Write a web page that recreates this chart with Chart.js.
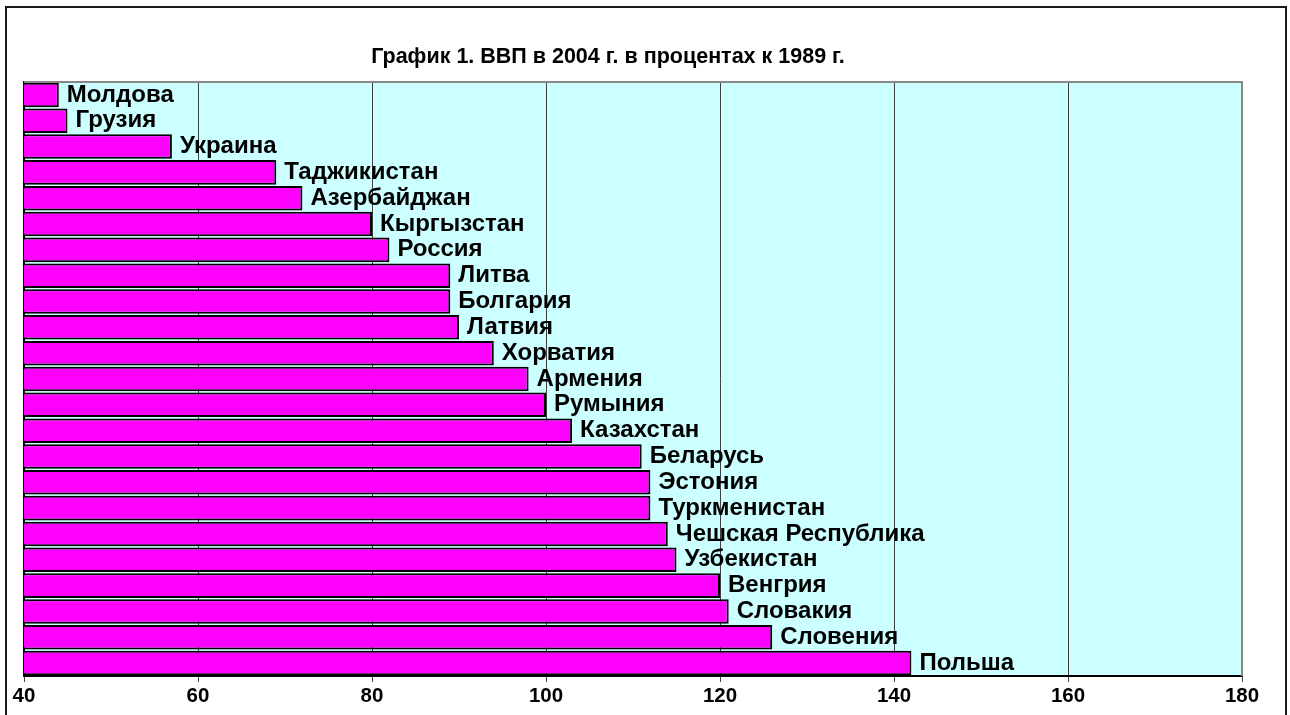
<!DOCTYPE html>
<html>
<head>
<meta charset="utf-8">
<script src="https://cdn.jsdelivr.net/npm/chart.js@4/dist/chart.umd.min.js"></script>
<style>
    html, body { margin: 0; padding: 0; background: #fff; }
    #wrap { width: 1290px; height: 715px; }
</style>
</head>
<body>
<div id="wrap"><canvas id="gdp-chart" width="1290" height="715"></canvas></div>
<script>
// countries, top to bottom
const countries = [
    'Молдова', 'Грузия', 'Украина', 'Таджикистан', 'Азербайджан', 'Кыргызстан',
    'Россия', 'Литва', 'Болгария', 'Латвия', 'Хорватия', 'Армения', 'Румыния',
    'Казахстан', 'Беларусь', 'Эстония', 'Туркменистан', 'Чешская Республика',
    'Узбекистан', 'Венгрия', 'Словакия', 'Словения', 'Польша'
];

// GDP 2004, % of 1989
const gdpPercent = [
    44, 45, 57, 69, 72, 80,
    82, 89, 89, 90, 94, 98, 100,
    103, 111, 112, 112, 114,
    115, 120, 121, 126, 142
];

const xTicks = [40, 60, 80, 100, 120, 140, 160, 180];

const chartTitle = 'График 1. ВВП в 2004 г. в процентах к 1989 г.';

const FONT = 'Arial, "Liberation Sans", sans-serif';

// frame, plot background, plot border and title
const decorPlugin = {
    id: 'decor',
    beforeDraw (chart) {
        const { ctx, chartArea } = chart;
        ctx.save();
        ctx.fillStyle = '#ffffff';
        ctx.fillRect(0, 0, chart.width, chart.height);
        ctx.fillStyle = '#ccffff';
        ctx.fillRect(chartArea.left, chartArea.top, chartArea.right - chartArea.left, chartArea.bottom - chartArea.top);

        ctx.strokeStyle = '#1a1a1a';
        ctx.lineWidth = 2;
        ctx.strokeRect(6, 7, 1280, 720);

        ctx.fillStyle = '#000';
        ctx.font = 'bold 21.5px ' + FONT;
        ctx.textAlign = 'center';
        ctx.textBaseline = 'middle';
        ctx.fillText(chartTitle, 608, 57);
        ctx.restore();
    },
    afterDraw (chart) {
        const { ctx, chartArea } = chart;
        ctx.save();
        ctx.strokeStyle = '#888';
        ctx.lineWidth = 2;
        ctx.beginPath();
        ctx.moveTo(chartArea.left, chartArea.top);
        ctx.lineTo(chartArea.right, chartArea.top);
        ctx.lineTo(chartArea.right, chartArea.bottom);
        ctx.stroke();
        ctx.restore();
    }
};

// country name to the right of each bar
const barLabelPlugin = {
    id: 'barLabels',
    afterDatasetsDraw (chart) {
        const { ctx } = chart;
        const meta = chart.getDatasetMeta(0);
        ctx.save();
        ctx.fillStyle = '#000';
        ctx.font = 'bold 24px ' + FONT;
        ctx.textAlign = 'left';
        ctx.textBaseline = 'middle';
        meta.data.forEach((bar, i) => {
            ctx.fillText(countries[i], bar.x + 8, bar.y);
        });
        ctx.restore();
    }
};

new Chart(
    document.getElementById('gdp-chart'),
    {
        type: 'bar',
        data: {
            labels: countries,
            datasets: [
                {
                    label: 'ВВП 2004, % к 1989',
                    data: gdpPercent,
                    backgroundColor: '#ff00ff',
                    borderColor: '#000',
                    borderWidth: 2,
                    borderSkipped: false,
                    barPercentage: 0.95,
                    categoryPercentage: 1
                }
            ]
        },
        options: {
            indexAxis: 'y',
            responsive: false,
            animation: false,
            layout: {
                padding: { top: 82, right: 48, left: 0, bottom: 0 }
            },
            plugins: {
                legend: { display: false },
                title: { display: false },
                tooltip: { enabled: false }
            },
            scales: {
                x: {
                    min: 40,
                    max: 180,
                    afterBuildTicks: scale => {
                        scale.ticks = xTicks.map(v => ({ value: v }));
                    },
                    afterFit: scale => {
                        scale.height = 39;
                    },
                    grid: {
                        color: '#404040',
                        lineWidth: 1,
                        tickLength: 6,
                        drawOnChartArea: true
                    },
                    border: { color: '#000', width: 2 },
                    ticks: {
                        color: '#000',
                        padding: 2,
                        maxRotation: 0,
                        font: { family: FONT, size: 20.5, weight: 'bold' }
                    }
                },
                y: {
                    afterFit: scale => {
                        scale.width = 24;
                    },
                    grid: { display: false },
                    border: { display: true, color: '#000', width: 2 },
                    ticks: { display: false }
                }
            }
        },
        plugins: [decorPlugin, barLabelPlugin]
    }
);
</script>
</body>
</html>
